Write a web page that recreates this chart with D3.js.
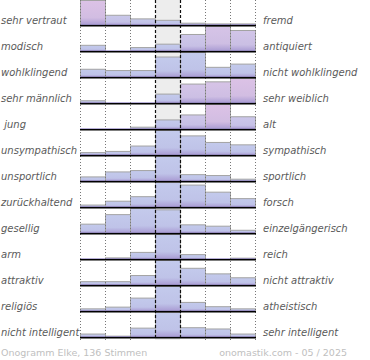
<!DOCTYPE html>
<html>
<head>
<meta charset="utf-8">
<script src="https://cdn.jsdelivr.net/npm/d3@7"></script>
<style>
  html, body { margin: 0; padding: 0; background: #fff; }
  svg { display: block; }
  text { font-family: "DejaVu Sans", sans-serif; }
</style>
</head>
<body>
<svg id="chart" width="370" height="360"></svg>
<script>
// ---- data ----
const leftLabels = ["sehr vertraut", "modisch", "wohlklingend", "sehr männlich", " jung",
  "unsympathisch", "unsportlich", "zurückhaltend", "gesellig", "arm", "attraktiv",
  "religiös", "nicht intelligent"];
const rightLabels = ["fremd", "antiquiert", "nicht wohlklingend", "sehr weiblich", "alt",
  "sympathisch", "sportlich", "forsch", "einzelgängerisch", "reich", "nicht attraktiv",
  "atheistisch", "sehr intelligent"];
const levels = [1, 2, 3, 4, 5, 6, 7];
// votes per scale step (136 votes per row, estimated)
const votes = [
  [68, 27, 17, 13, 5, 3, 3],
  [10, 0, 6, 12, 29, 43, 36],
  [12, 10, 10, 31, 38, 15, 20],
  [4, 0, 0, 16, 34, 38, 44],
  [0, 0, 4, 20, 31, 54, 27],
  [4, 6, 15, 41, 32, 21, 17],
  [9, 20, 23, 54, 14, 12, 4],
  [3, 9, 16, 38, 34, 23, 13],
  [13, 27, 36, 34, 12, 10, 4],
  [0, 4, 24, 89, 16, 0, 3],
  [6, 6, 17, 44, 30, 20, 13],
  [5, 9, 30, 57, 20, 10, 5],
  [7, 2, 21, 58, 22, 19, 7]
];
const footerLeft = "Onogramm Elke, 136 Stimmen";
const footerRight = "onomastik.com - 05 / 2025";

// ---- layout ----
const svg = d3.select("#chart");
const x0 = 80, x1 = 255;
const rowStep = 26, firstBase = 25, barMax = 24.5;
const x = d3.scaleBand().domain(levels).range([x0, x1]).paddingInner(0).paddingOuter(0);
const rows = d3.range(leftLabels.length);
const baseY = r => firstBase + r * rowStep;
const chartBottom = baseY(rows.length - 1) + 3;

const defs = svg.append("defs");
const blueTop = "#c3caec", pinkTop = "#dcc2e6", bottom = "#a99bd3";

// center column background
svg.append("rect")
  .attr("x", x(4)).attr("y", 0)
  .attr("width", x.bandwidth()).attr("height", chartBottom)
  .attr("fill", "#ededed");

// bars
rows.forEach(r => {
  const vals = votes[r];
  const total = d3.sum(vals);
  const vmax = d3.max(vals);
  const mean = d3.sum(vals, (v, i) => v * levels[i]) / total - 4;
  const y = d3.scaleLinear().domain([0, vmax]).range([baseY(r), baseY(r) - barMax]);
  const g = svg.append("g");
  vals.forEach((v, i) => {
    const d = levels[i] - 4;
    let t = 0;
    if (d * mean > 0) t = Math.max(0, Math.min(1, Math.abs(mean) - 0.6)) * Math.pow(v / vmax, 1.5);
    const id = `grad-${r}-${i}`;
    const lg = defs.append("linearGradient").attr("id", id)
      .attr("x1", 0).attr("y1", 0).attr("x2", 0).attr("y2", 1);
    lg.append("stop").attr("offset", "0%").attr("stop-color", d3.interpolateRgb(blueTop, pinkTop)(t));
    lg.append("stop").attr("offset", "70%").attr("stop-color", d3.interpolateRgb("#bfc3e8", "#d2bde2")(t));
    lg.append("stop").attr("offset", "100%").attr("stop-color", bottom);
    if (v > 0) {
      g.append("rect")
        .attr("x", x(levels[i]) + 0.5)
        .attr("y", y(v))
        .attr("width", x.bandwidth())
        .attr("height", baseY(r) - y(v))
        .attr("fill", `url(#${id})`)
        .attr("stroke", "#a3a3a3")
        .attr("stroke-width", 1);
    }
  });
  // purple strip near baseline
  g.append("line")
    .attr("x1", x0).attr("x2", x1)
    .attr("y1", baseY(r) - 0.5).attr("y2", baseY(r) - 0.5)
    .attr("stroke", "#8a7cc0").attr("stroke-width", 1).attr("opacity", 0.6);
});

// vertical grid lines
[1, 2, 3, 6, 7].forEach(l => {
  svg.append("line").attr("x1", x(l) + 0.5).attr("x2", x(l) + 0.5)
    .attr("y1", 0).attr("y2", chartBottom)
    .attr("stroke", "#777").attr("stroke-width", 1).attr("stroke-dasharray", "1,2");
});
svg.append("line").attr("x1", x1 + 0.5).attr("x2", x1 + 0.5)
  .attr("y1", 0).attr("y2", chartBottom)
  .attr("stroke", "#777").attr("stroke-width", 1).attr("stroke-dasharray", "1,2");
[4, 5].forEach(l => {
  svg.append("line").attr("x1", x(l) + 0.5).attr("x2", x(l) + 0.5)
    .attr("y1", 0).attr("y2", chartBottom)
    .attr("stroke", "#111").attr("stroke-width", 1.2).attr("stroke-dasharray", "3,2");
});

// baselines
rows.forEach(r => {
  svg.append("line")
    .attr("x1", x0).attr("x2", x1 + 1)
    .attr("y1", baseY(r) + 0.75).attr("y2", baseY(r) + 0.75)
    .attr("stroke", "#000").attr("stroke-width", 1.5);
});

// labels
svg.append("g").selectAll("text").data(leftLabels).join("text")
  .attr("x", 1).attr("y", (d, i) => baseY(i) - 1.5)
  .attr("font-size", 10).attr("font-style", "italic").attr("fill", "#5a5a5a")
  .style("white-space", "pre")
  .text(d => d);
svg.append("g").selectAll("text").data(rightLabels).join("text")
  .attr("x", 263).attr("y", (d, i) => baseY(i) - 1.5)
  .attr("font-size", 10).attr("font-style", "italic").attr("fill", "#5a5a5a")
  .text(d => d);

// footer
svg.append("text").attr("x", 1).attr("y", 356)
  .attr("font-size", 9.5).attr("fill", "#c0c0c0").text(footerLeft);
svg.append("text").attr("x", 347).attr("y", 356).attr("text-anchor", "end")
  .attr("font-size", 9.5).attr("fill", "#c0c0c0").text(footerRight);
</script>
</body>
</html>
